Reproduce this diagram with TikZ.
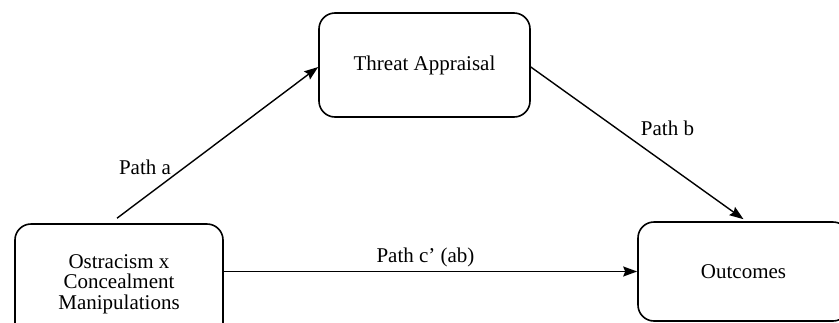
\documentclass[tikz,border=0pt]{standalone}
\usepackage{fontspec}
\setmainfont{Liberation Serif}
\usepackage{tikz}
\usetikzlibrary{arrows.meta,positioning}

\begin{document}
\begin{tikzpicture}[
    x=1pt, y=-1pt,
    box/.style={rectangle, rounded corners=16pt, draw, line width=1.6pt, align=center,
                font=\fontsize{21}{20.5}\selectfont},
    lbl/.style={anchor=base, inner sep=0pt, font=\fontsize{21}{20.5}\selectfont},
    arrow/.style={-{Stealth[length=14pt, width=10pt, inset=2pt]}, line width=1.4pt}
]
    \useasboundingbox (0,0) rectangle (839,322);
    \clip (0,0) rectangle (839,322);

    \node[box, minimum width=211pt, minimum height=104pt] (threat) at (424.5,65) {Threat Appraisal};
    \node[box, minimum width=208pt, minimum height=120pt] (ostra) at (119,284) {Ostracism x\\Concealment\\Manipulations};
    \node[box, minimum width=211pt, minimum height=99pt] (outc) at (743.5,271.5) {Outcomes};

    \draw[arrow] ([xshift=-2pt, yshift=5pt]ostra.north) -- ([yshift=-2pt]threat.west);
    \draw[arrow] ([yshift=-2pt]threat.east) -- ([yshift=2pt]outc.north);
    \draw[arrow] (ostra.east |- outc.west) -- (outc.west);

    \node[lbl] (pa) at (145,174) {Path a};
    \node[lbl] (pb) at (667.5,135) {Path b};
    \node[lbl] (pc) at (425.5,262) {Path c' (ab)};
\end{tikzpicture}
\end{document}
